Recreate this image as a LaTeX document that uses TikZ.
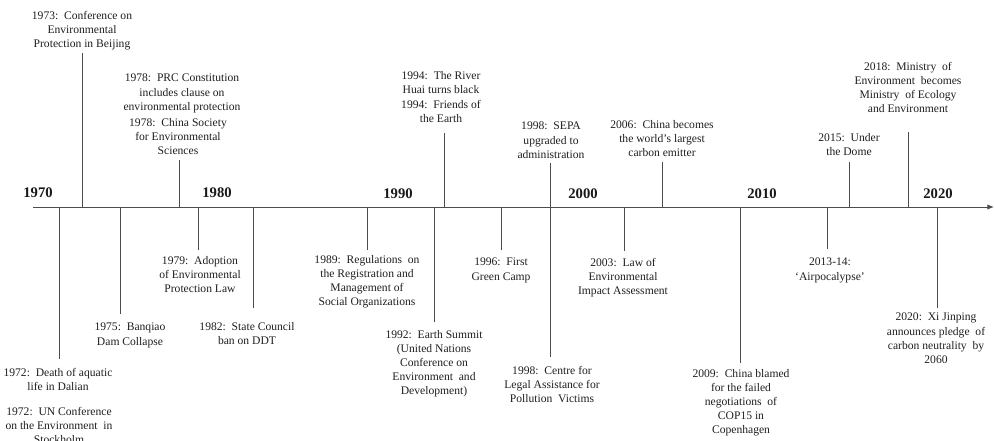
\documentclass[tikz,border=0pt]{standalone}
\usepackage{fontspec}
\setmainfont{Liberation Serif}
\usetikzlibrary{arrows.meta}
\begin{document}
\begin{tikzpicture}[x=0.75pt,y=-0.75pt,
  evt/.style={align=center, inner sep=0pt, anchor=north, font=\fontsize{8.7}{10.6}\selectfont, text=black!88},
  yr/.style={inner sep=0pt, anchor=center, font=\fontsize{11}{13}\selectfont\bfseries, text=black!90},
  tick/.style={draw=black!70, line width=0.6pt},
  axisline/.style={draw=black!70, line width=0.7pt, -{Latex[length=5pt,width=4pt]}}]
\useasboundingbox (0,0) rectangle (994,440);
% axis
\coordinate (axL) at (33,207);
\coordinate (axR) at (994,207);
\draw[axisline] (axL) -- (axR);
% decade labels
\node[yr] (y1970) at (38,193) {1970};
\node[yr] (y1980) at (217,193) {1980};
\node[yr] (y1990) at (398,194) {1990};
\node[yr] (y2000) at (583,194) {2000};
\node[yr] (y2010) at (762,194) {2010};
\node[yr] (y2020) at (938,194) {2020};
% events above
\node[evt] (e73) at (82,11) {1973:\ \ Conference on\\Environmental\\Protection in Beijing};
\node[evt] (e78a) at (182,74) {1978:\ \ PRC Constitution\\includes clause on\\environmental protection};
\node[evt] (e78b) at (178,118) {1978:\ \ China Society\\for Environmental\\Sciences};
\node[evt] (e94a) at (441,71) {1994:\ \ The River\\Huai turns black};
\node[evt] (e94b) at (441,100) {1994:\ \ Friends of\\the Earth};
\node[evt] (e98a) at (551,122) {1998:\ \ SEPA\\upgraded to\\administration};
\node[evt] (e06) at (662,120) {2006:\ \ China becomes\\the world's largest\\carbon emitter};
\node[evt] (e15) at (849,133) {2015:\ \ Under\\the Dome};
\node[evt] (e18) at (908,62) {2018:\ \ Ministry\ \ of\\Environment\ \ becomes\\Ministry\ \ of Ecology\\and Environment};
% events below
\node[evt] (e72a) at (58,368) {1972:\ \ Death of aquatic\\life in Dalian};
\node[evt] (e72b) at (59,407) {1972:\ \ UN Conference\\on the Environment\ \ in\\Stockholm};
\node[evt] (e75) at (130,323) {1975:\ \ Banqiao\\Dam Collapse};
\node[evt] (e79) at (200,256) {1979:\ \ Adoption\\of Environmental\\Protection Law};
\node[evt] (e82) at (247,322) {1982:\ \ State Council\\ban on DDT};
\node[evt] (e89) at (367,255) {1989:\ \ Regulations\ \ on\\the Registration and\\Management of\\Social Organizations};
\node[evt] (e92) at (434,330) {1992:\ \ Earth Summit\\(United Nations\\Conference on\\Environment\ \ and\\Development)};
\node[evt] (e96) at (501,258) {1996:\ \ First\\Green Camp};
\node[evt] (e98b) at (552,366) {1998:\ \ Centre for\\Legal Assistance for\\Pollution\ \ Victims};
\node[evt] (e03) at (623,258) {2003:\ \ Law of\\Environmental\\Impact Assessment};
\node[evt] (e09) at (741,369) {2009:\ \ China blamed\\for the failed\\negotiations\ \ of\\COP15 in\\Copenhagen};
\node[evt] (e13) at (830,258) {2013-14:\\`Airpocalypse'};
\node[evt] (e20) at (936,313) {2020:\ \ Xi Jinping\\announces pledge\ \ of\\carbon neutrality\ \ by\\2060};
% tick coordinates
\foreach \n/\x/\y in {t73/82/53, t78/179/160, t94/444/133, t98u/550/163, t06/662/162, t15/849/162, t18/908/132,
  t72/59/359, t75/120/314, t79/198/250, t82/253/308, t89/367/250, t92/434/322, t96/501/250, t98d/550/357,
  t03/624/251, t09/740/363, t13/827/249, t20/937/308}{
  \coordinate (\n) at (\x,\y);
  \coordinate (a\n) at (\x,207);
}
\foreach \n in {t73,t78,t94,t98u,t06,t15,t18,t72,t75,t79,t82,t89,t92,t96,t98d,t03,t09,t13,t20}{
  \draw[tick] (a\n) -- (\n);
}
\end{tikzpicture}
\end{document}
